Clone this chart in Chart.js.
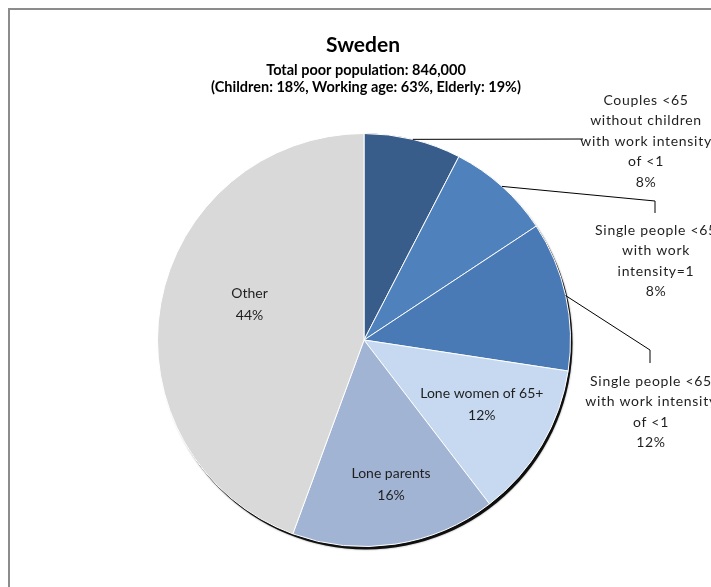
<!DOCTYPE html>
<html>
<head>
<meta charset="utf-8">
<script src="https://cdn.jsdelivr.net/npm/chart.js@4/dist/chart.umd.min.js"></script>
<style>
  html, body { margin: 0; padding: 0; background: #fff; overflow: hidden; }
  #frame { position: absolute; left: 8px; top: 8px; width: 760px; height: 640px; border: 2px solid #8c8c8c; }
  #chart { position: absolute; left: 0; top: 0; }
</style>
</head>
<body>
<div id="frame"></div>
<canvas id="chart" width="711" height="587"></canvas>
<script>
const categories = [
    ["Couples <65", "without children", "with work intensity", "of <1"],
    ["Single people <65", "with work", "intensity=1"],
    ["Single people <65", "with work intensity", "of <1"],
    ["Lone women of 65+"],
    ["Lone parents"],
    ["Other"],
];
const shares = [7.6, 8.1, 11.7, 12.2, 16.0, 44.4];
const colors = ["#395d8a", "#4f81bd", "#4a7ab5", "#c6d9f1", "#a2b4d4", "#d9d9d9"];

const titleText = "Sweden";
const subtitleLines = [
    "Total poor population: 846,000",
    "(Children: 18%, Working age: 63%, Elderly: 19%)",
];

// label placement: inside labels use radius fraction + angle shift (deg),
// outside labels use a leader line to an elbow point and a text centre
const labelLayout = [
    { out: true, elbow: [583, 139], drop: 0, textX: 646, textY: 100 },
    { out: true, elbow: [655, 201], drop: 12, textX: 656, textY: 230 },
    { out: true, elbow: [650, 350], drop: 13, textX: 651, textY: 381 },
    { out: false, r: 0.65, shift: -2 },
    { out: false, r: 0.71, shift: -2 },
    { out: false, r: 0.58, shift: 7 },
];

const FONT = "Lato, 'Open Sans', sans-serif";

const pieExtras = {
    id: "pieExtras",
    beforeDatasetsDraw(chart) {
        const arc = chart.getDatasetMeta(0).data[0];
        const { x, y, outerRadius } = arc.getProps(["x", "y", "outerRadius"], true);
        const ctx = chart.ctx;
        ctx.save();
        ctx.fillStyle = "rgba(0,0,0,0.9)";
        ctx.shadowColor = "rgba(0,0,0,0.5)";
        ctx.shadowBlur = 2;
        ctx.beginPath();
        ctx.arc(x + 2, y + 3, outerRadius, 0, Math.PI * 2);
        ctx.fill();
        ctx.restore();
    },
    afterDatasetsDraw(chart) {
        const ctx = chart.ctx;
        const meta = chart.getDatasetMeta(0);
        const cxTitle = meta.data[0].x;
        ctx.save();
        ctx.fillStyle = "#000";
        ctx.textAlign = "center";
        ctx.textBaseline = "middle";
        ctx.font = "bold 21px " + FONT;
        ctx.fillText(titleText, cxTitle - 1, 45);
        ctx.font = "bold 14.5px " + FONT;
        subtitleLines.forEach((t, k) => ctx.fillText(t, cxTitle + 2, 70 + k * 17.5));

        ctx.font = "14px " + FONT;
        ctx.fillStyle = "#1f1f1f";
        meta.data.forEach((arc, i) => {
            const p = arc.getProps(["x", "y", "startAngle", "endAngle", "outerRadius"], true);
            const lay = labelLayout[i];
            const pct = Math.round(shares[i]) + "%";
            const lines = categories[i].concat([pct]);
            const mid = (p.startAngle + p.endAngle) / 2;
            if (lay.out) {
                const sx = p.x + Math.cos(mid) * p.outerRadius;
                const sy = p.y + Math.sin(mid) * p.outerRadius;
                ctx.strokeStyle = "#000";
                ctx.lineWidth = 1;
                ctx.beginPath();
                ctx.moveTo(sx, sy);
                ctx.lineTo(lay.elbow[0], lay.elbow[1]);
                if (lay.drop) ctx.lineTo(lay.elbow[0], lay.elbow[1] + lay.drop);
                ctx.stroke();
                ctx.letterSpacing = "0.7px";
                lines.forEach((t, k) => {
                    ctx.fillText(t, lay.textX, lay.textY + k * 20.5);
                });
                ctx.letterSpacing = "0px";
            } else {
                const a = mid + lay.shift * Math.PI / 180;
                const cx = p.x + Math.cos(a) * p.outerRadius * lay.r;
                const cy = p.y + Math.sin(a) * p.outerRadius * lay.r;
                const h = 22;
                lines.forEach((t, k) => {
                    ctx.fillText(t, cx, cy - h / 2 + k * h);
                });
            }
        });
        ctx.restore();
    },
};

new Chart(document.getElementById("chart"), {
    type: "pie",
    data: {
        labels: categories.map((c) => c.join(" ")),
        datasets: [
            {
                data: shares,
                backgroundColor: colors,
                borderColor: "#ffffff",
                borderWidth: 1,
            },
        ],
    },
    options: {
        responsive: false,
        animation: false,
        layout: {
            padding: { left: 157, right: 140, top: 133, bottom: 40 },
        },
        plugins: {
            legend: { display: false },
            tooltip: { enabled: false },
            title: { display: false },
        },
    },
    plugins: [pieExtras],
});
</script>
</body>
</html>
